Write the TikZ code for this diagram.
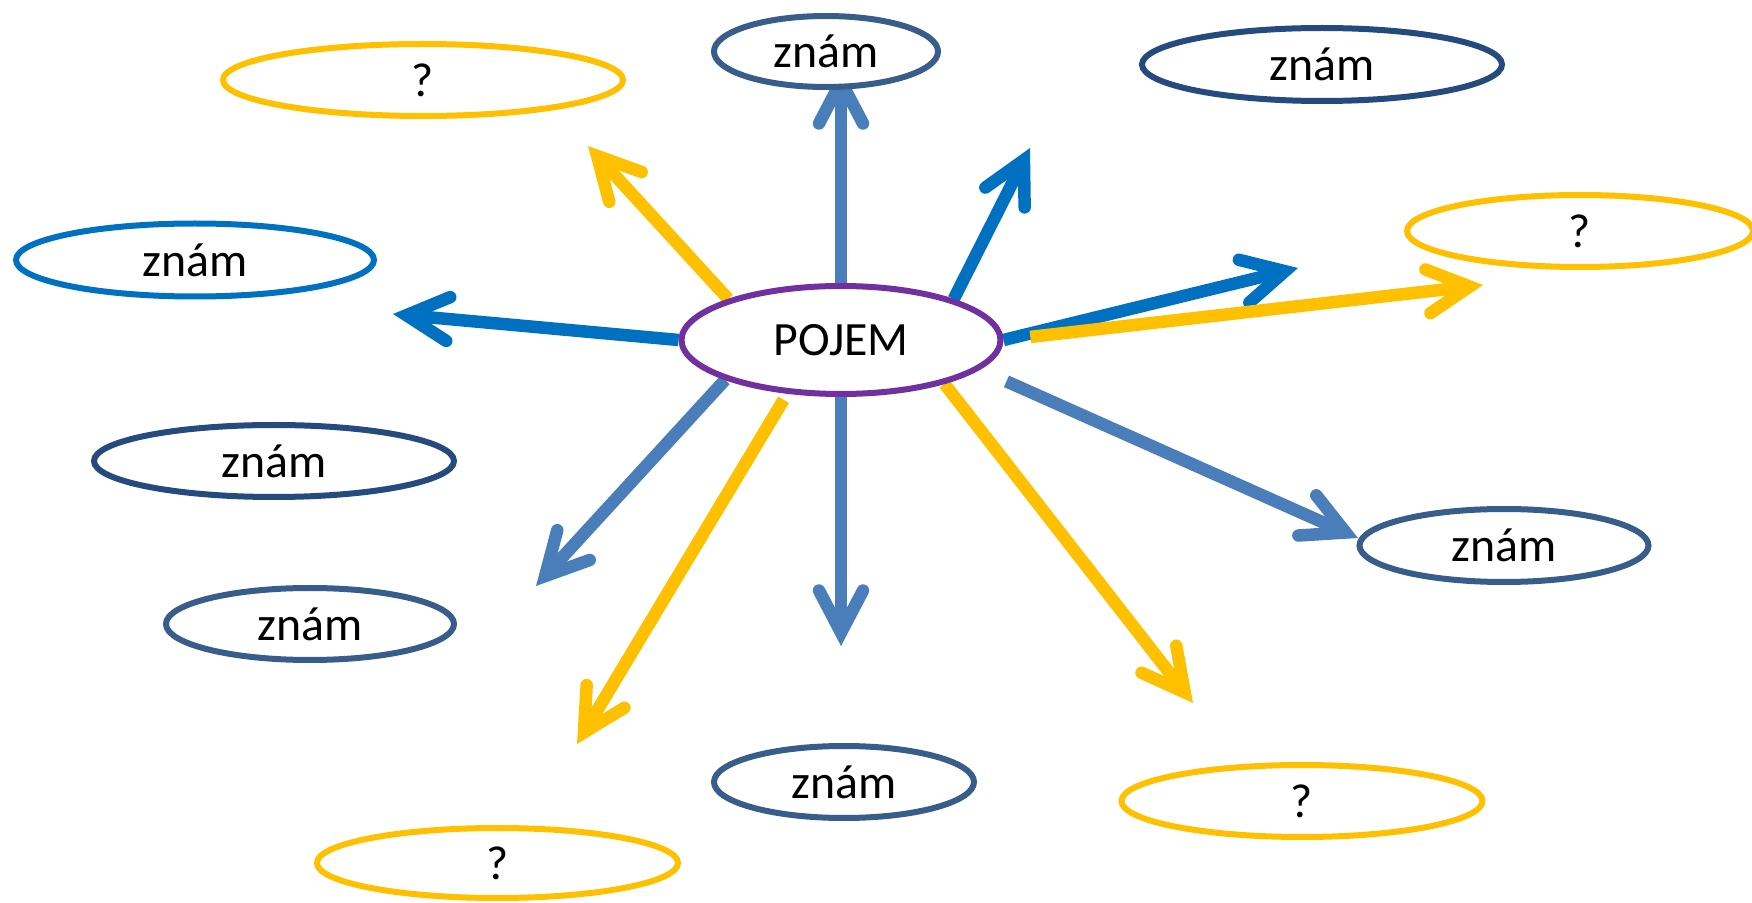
\documentclass[tikz,border=0pt]{standalone}
\usepackage{fontspec}
\setmainfont{Carlito}
\usetikzlibrary{arrows.meta}
\usetikzlibrary{shapes.geometric}
\definecolor{steel}{HTML}{4A7EBB}
\definecolor{azure}{HTML}{0070C0}
\definecolor{amber}{HTML}{FFC000}
\definecolor{pojemc}{HTML}{7030A0}
\definecolor{slate}{HTML}{385D8A}
\definecolor{navyc}{HTML}{254B7E}
\pgfdeclarelayer{bg}
\pgfsetlayers{bg,main}

\begin{document}
\begin{tikzpicture}[x=0.1mm, y=-0.1mm,
    bub/.style={ellipse, draw, fill=white, line width=0.6mm, inner sep=0pt,
        font=\fontsize{13.6}{16}\selectfont},
    arr/.style={line width=1.25mm,
        -{Straight Barb[length=4.2mm, width=4.4mm, line cap=round, line join=miter]}}]
    % pojem a bubliny kolem
    \useasboundingbox (0,0) rectangle (1752,903);
    \node[bub, draw=pojemc, minimum width=31.9mm, minimum height=10.8mm] (pojem) at (841,340) {POJEM};

    \node[bub, draw=amber, minimum width=40mm, minimum height=7.2mm] (qTL) at (423,80) {?};
    \node[bub, draw=slate, minimum width=22.4mm, minimum height=7.1mm] (zT) at (826,51.5) {znám};
    \node[bub, draw=navyc, minimum width=36mm, minimum height=7.3mm] (zTR) at (1322,64.5) {znám};
    \node[bub, draw=amber, minimum width=34.6mm, minimum height=7.2mm] (qR) at (1580,231) {?};
    \node[bub, draw=azure, minimum width=35.8mm, minimum height=7.3mm] (zL) at (195,260) {znám};
    \node[bub, draw=navyc, minimum width=36mm, minimum height=7.2mm] (zML) at (274,461) {znám};
    \node[bub, draw=slate, minimum width=28.8mm, minimum height=7.2mm] (zLL) at (310,624) {znám};
    \node[bub, draw=amber, minimum width=36.1mm, minimum height=7mm] (qB) at (497.5,863) {?};
    \node[bub, draw=slate, minimum width=26mm, minimum height=7.2mm] (zB) at (844,782) {znám};
    \node[bub, draw=amber, minimum width=36.1mm, minimum height=7.2mm] (qBR) at (1302,801) {?};
    \node[bub, draw=slate, minimum width=28.9mm, minimum height=7.3mm] (zR) at (1504,545.5) {znám};

    \coordinate (tA) at (841,68);
    \coordinate (tB) at (1030,148);
    \coordinate (tC) at (1298,268);
    \coordinate (tD) at (1483,285);
    \coordinate (tE) at (1358,538);
    \coordinate (tF) at (1193,703);
    \coordinate (tG) at (841,646);
    \coordinate (tH) at (577,744);
    \coordinate (tI) at (536,586);
    \coordinate (tJ) at (393,314);
    \coordinate (tK) at (588,146);

    \begin{pgfonlayer}{bg}
    \draw[arr, steel] (pojem.north) -- (tA);
    \draw[arr, azure] (pojem.20) -- (tB);
    \draw[arr, azure] (pojem.east) -- (tC);
    \draw[arr, amber, shorten <=2.7mm] (pojem.east) -- (tD);
    \draw[arr, steel, shorten <=2.9mm] (pojem.-12) -- (tE);
    \draw[arr, amber] (pojem.-23) -- (tF);
    \draw[arr, steel] (pojem.south) -- (tG);
    \draw[arr, amber, shorten <=0.7mm] (pojem.-135) -- (tH);
    \draw[arr, steel] (pojem.-161) -- (tI);
    \draw[arr, azure] (pojem.west) -- (tJ);
    \draw[arr, amber] (pojem.160) -- (tK);
    \end{pgfonlayer}
\end{tikzpicture}
\end{document}
